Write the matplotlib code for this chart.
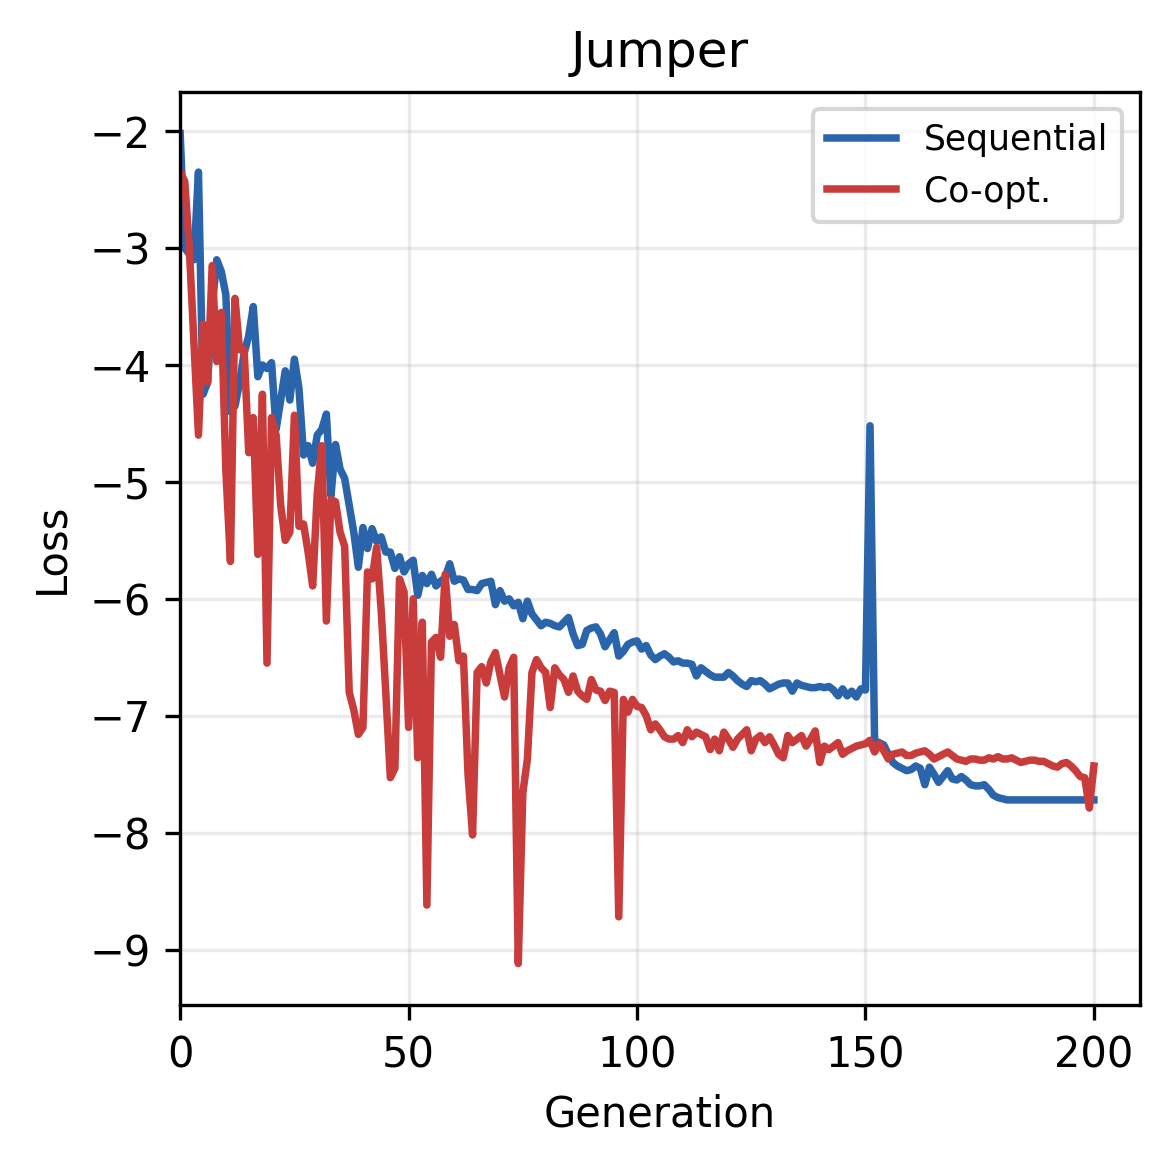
import numpy as np
import matplotlib.pyplot as plt

# loss per generation
sequential = [
    -2.02, -3.0, -3.05, -3.1, -2.35, -4.25, -4.15, -3.5, -3.1, -3.2,
    -3.4, -4.4, -4.35, -4.15, -3.9, -3.75, -3.5, -4.1, -4.0, -4.03,
    -3.98, -4.55, -4.3, -4.05, -4.3, -3.95, -4.2, -4.77, -4.69, -4.84,
    -4.6, -4.55, -4.42, -5.12, -4.68, -4.89, -4.97, -5.2, -5.43, -5.73,
    -5.39, -5.57, -5.4, -5.51, -5.47, -5.6, -5.6, -5.74, -5.64, -5.77,
    -5.7, -5.67, -5.97, -5.8, -5.87, -5.79, -5.89, -5.85, -5.82, -5.7,
    -5.85, -5.83, -5.84, -5.92, -5.92, -5.93, -5.87, -5.86, -5.85, -6.05,
    -5.93, -6.02, -6.0, -6.06, -6.03, -6.17, -6.02, -6.13, -6.18, -6.23,
    -6.2, -6.21, -6.23, -6.24, -6.2, -6.16, -6.3, -6.4, -6.39, -6.27,
    -6.25, -6.24, -6.3, -6.41, -6.35, -6.29, -6.49, -6.45, -6.39, -6.37,
    -6.36, -6.43, -6.4, -6.48, -6.52, -6.49, -6.47, -6.5, -6.54, -6.53,
    -6.55, -6.55, -6.56, -6.66, -6.59, -6.62, -6.65, -6.67, -6.67, -6.67,
    -6.63, -6.66, -6.7, -6.73, -6.75, -6.7, -6.71, -6.7, -6.73, -6.77,
    -6.75, -6.73, -6.72, -6.72, -6.79, -6.72, -6.74, -6.75, -6.76, -6.76,
    -6.75, -6.76, -6.75, -6.78, -6.83, -6.77, -6.83, -6.79, -6.84, -6.77,
    -6.78, -4.52, -7.22, -7.23, -7.25, -7.33, -7.4, -7.43, -7.45, -7.47,
    -7.46, -7.43, -7.45, -7.59, -7.44, -7.5, -7.57, -7.52, -7.47, -7.54,
    -7.55, -7.52, -7.55, -7.59, -7.6, -7.6, -7.59, -7.63, -7.68, -7.7,
    -7.71, -7.72, -7.72, -7.72, -7.72, -7.72, -7.72, -7.72, -7.72, -7.72,
    -7.72, -7.72, -7.72, -7.72, -7.72, -7.72, -7.72, -7.72, -7.72, -7.72,
    -7.72,
]

coopt = [
    -2.35, -2.43, -3.0, -3.8, -4.6, -3.65, -4.15, -3.15, -3.97, -3.55,
    -4.9, -5.68, -3.43, -3.87, -3.87, -4.75, -4.45, -5.62, -4.25, -6.55,
    -4.45, -4.6, -5.2, -5.5, -5.43, -4.43, -5.38, -5.36, -5.6, -5.89,
    -5.1, -4.69, -6.19, -5.15, -5.17, -5.43, -5.55, -6.8, -6.95, -7.16,
    -7.1, -5.77, -5.83, -5.56, -6.1, -6.8, -7.53, -7.45, -5.83, -5.94,
    -7.1, -6.0, -7.36, -6.2, -8.62, -6.37, -6.33, -6.5, -5.79, -6.32,
    -6.22, -6.53, -6.49, -7.5, -8.02, -6.63, -6.58, -6.72, -6.54, -6.46,
    -6.65, -6.84, -6.59, -6.5, -9.12, -7.66, -7.37, -6.63, -6.52, -6.59,
    -6.63, -6.93, -6.59, -6.65, -6.69, -6.8, -6.66, -6.79, -6.83, -6.86,
    -6.69, -6.78, -6.79, -6.87, -6.79, -6.8, -8.72, -6.86, -6.97, -6.86,
    -6.92, -6.93, -7.0, -7.12, -7.07, -7.12, -7.18, -7.2, -7.2, -7.17,
    -7.23, -7.12, -7.18, -7.14, -7.16, -7.18, -7.29, -7.2, -7.3, -7.14,
    -7.2, -7.27, -7.2, -7.16, -7.12, -7.3, -7.2, -7.17, -7.23, -7.18,
    -7.25, -7.33, -7.36, -7.17, -7.23, -7.2, -7.17, -7.26, -7.2, -7.13,
    -7.4, -7.26, -7.29, -7.26, -7.23, -7.33, -7.3, -7.28, -7.26, -7.25,
    -7.24, -7.21, -7.31, -7.24, -7.3, -7.37, -7.33, -7.32, -7.31, -7.34,
    -7.34, -7.32, -7.31, -7.3, -7.33, -7.37, -7.35, -7.33, -7.31, -7.34,
    -7.37, -7.38, -7.39, -7.37, -7.37, -7.38, -7.38, -7.36, -7.37, -7.35,
    -7.37, -7.37, -7.36, -7.38, -7.4, -7.39, -7.38, -7.38, -7.39, -7.39,
    -7.41, -7.43, -7.44, -7.41, -7.4, -7.43, -7.47, -7.52, -7.53, -7.79,
    -7.43,
]

generations = np.arange(len(sequential))

fig = plt.figure(figsize=(3.9, 3.887), dpi=300)
ax = fig.add_axes([0.154, 0.138, 0.82, 0.783])

ax.plot(generations, sequential, color="#2a64ab", lw=1.8, label="Sequential")
ax.plot(generations, coopt, color="#c93c3c", lw=1.8, label="Co-opt.")

ax.set_xlim(0, 210)
ax.set_title("Jumper", fontsize=12)
ax.set_xlabel("Generation", fontsize=10)
ax.set_ylabel("Loss", fontsize=10)
ax.tick_params(labelsize=10)
ax.grid(True, alpha=0.25)
ax.legend(loc="upper right", fontsize=8.3)

fig.savefig("out.png", dpi=300)
